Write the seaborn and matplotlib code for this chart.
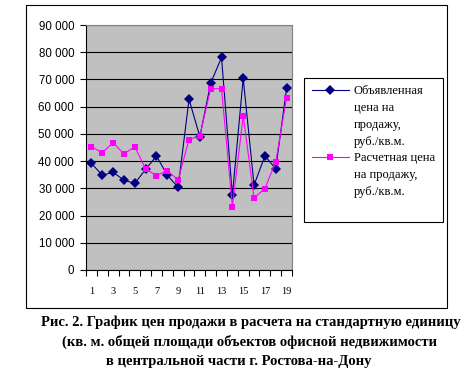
import numpy as np
import pandas as pd
import matplotlib
matplotlib.use("Agg")
import matplotlib.pyplot as plt
import seaborn as sns
from matplotlib.lines import Line2D
from matplotlib.patches import Rectangle
from matplotlib.ticker import FuncFormatter

# Data
objects = list(range(1, 20))
asked_price = [39200, 34800, 35900, 33000, 31800, 37000, 41900, 34800, 30400, 62700,
               49000, 68600, 78100, 27400, 70400, 31200, 41900, 37200, 66700]
calc_price = [45300, 43100, 46800, 42600, 45300, 37100, 34700, 36500, 33100, 47900,
              49300, 66600, 66600, 23300, 56700, 26500, 29900, 39700, 63300]
asked_label = ["Объявленная", "цена на", "продажу,", "руб./кв.м."]
calc_label = ["Расчетная цена", "на продажу,", "руб./кв.м."]
caption = ["Рис. 2. График цен продажи в расчета на стандартную единицу",
           "(кв. м. общей площади объектов офисной недвижимости",
           "в центральной части г. Ростова-на-Дону"]

df = pd.DataFrame({"n": objects, "asked": asked_price, "calc": calc_price})

W, H = 468, 370
fig = plt.figure(figsize=(W / 100, H / 100), dpi=100)
ax = fig.add_axes([86 / W, 1 - 270 / H, (292 - 86) / W, (270 - 25) / H])
ax.set_facecolor("#C0C0C0")

sns.lineplot(data=df, x="n", y="asked", ax=ax, color="#000080", marker="D",
             markersize=5, markeredgewidth=0, linewidth=0.8)
sns.lineplot(data=df, x="n", y="calc", ax=ax, color="#FF00FF", marker="s",
             markersize=4.5, markeredgewidth=0, linewidth=0.8)

ax.set_xlim(0.5, 19.5)
ax.set_ylim(0, 90000)
ax.set_yticks(np.arange(0, 90001, 10000))
ax.yaxis.set_major_formatter(FuncFormatter(lambda v, p: f"{int(v):,}".replace(",", " ")))
ax.grid(axis="y", color="black", linewidth=0.8)
ax.set_axisbelow(True)
ax.set_xlabel("")
ax.set_ylabel("")

# category axis: ticks between categories, labels on odd categories
ax.set_xticks(np.arange(0.5, 20, 1))
ax.set_xticklabels([])
ax.set_xticks(objects[::2], minor=True)
ax.set_xticklabels([str(n) for n in objects[::2]], minor=True,
                   fontfamily="Liberation Serif", fontsize=7.5)
ax.tick_params(axis="x", which="major", length=4, width=0.8, direction="out")
ax.tick_params(axis="x", which="minor", length=0, pad=12)
ax.tick_params(axis="y", length=4.5, width=0.8, pad=4)
for lab in ax.get_yticklabels():
    lab.set_fontfamily("Liberation Sans")
    lab.set_fontsize(8.3)

for side in ["left", "bottom"]:
    ax.spines[side].set_color("black")
    ax.spines[side].set_linewidth(0.8)
for side in ["top", "right"]:
    ax.spines[side].set_color("#808080")
    ax.spines[side].set_linewidth(0.8)

# legend, one row per text line
blank = Line2D([], [], color="none")
h_asked = Line2D([], [], color="#000080", marker="D", markersize=5, markeredgewidth=0, linewidth=0.8)
h_calc = Line2D([], [], color="#FF00FF", marker="s", markersize=4.5, markeredgewidth=0, linewidth=0.8)
handles = [h_asked] + [blank] * 3 + [h_calc] + [blank] * 2 + [blank]
labels = asked_label + calc_label + [" "]
leg = fig.legend(handles, labels, loc="upper left",
                 bbox_to_anchor=(304 / W, 1 - 78 / H), bbox_transform=fig.transFigure,
                 prop={"family": "Liberation Serif", "size": 9},
                 handlelength=3.0, handletextpad=0.4, labelspacing=0.38,
                 borderpad=0.6, borderaxespad=0, fancybox=False, framealpha=1)
leg.get_frame().set_edgecolor("black")
leg.get_frame().set_linewidth(0.8)

# outer chart border
fig.patches.append(Rectangle((25.5 / W, 1 - 307.5 / H), 421 / W, 303 / H,
                             transform=fig.transFigure, fill=False,
                             edgecolor="black", linewidth=0.8))

ys = [322, 342, 361]
xs = [251, 249, 239]
for text, x, y in zip(caption, xs, ys):
    fig.text(x / W, 1 - y / H, text, ha="center", va="center",
             fontfamily="Liberation Serif", fontweight="bold", fontsize=10.5)

fig.savefig("out.png", dpi=100)
